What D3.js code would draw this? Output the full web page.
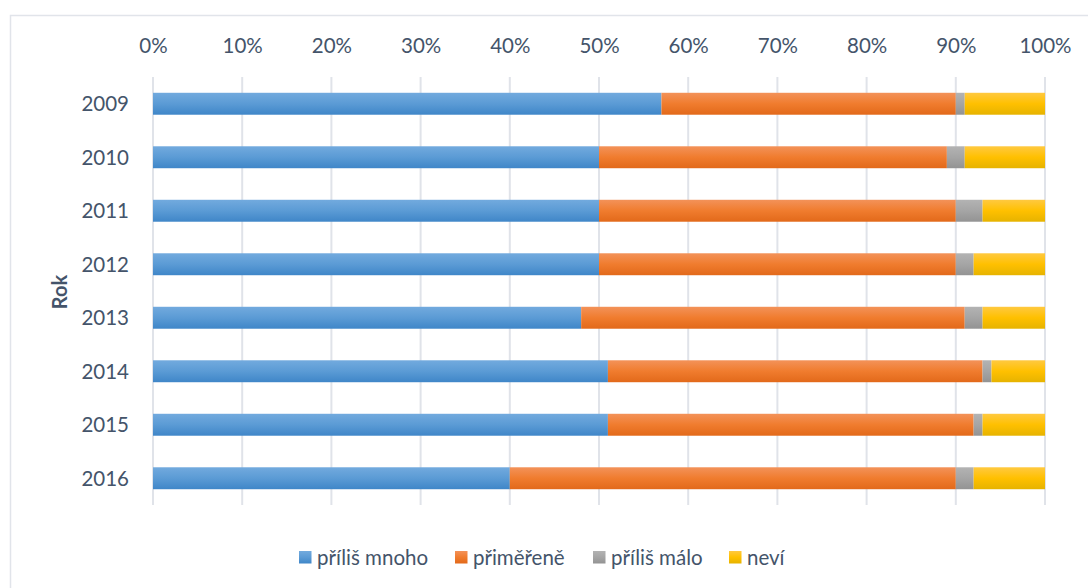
<!DOCTYPE html>
<html>
<head>
<meta charset="utf-8">
<script src="https://cdn.jsdelivr.net/npm/d3@7/dist/d3.min.js"></script>
<style>
  html, body { margin: 0; padding: 0; background: #fff; }
  svg { display: block; font-family: Lato, "Open Sans", sans-serif; }
</style>
</head>
<body>
<svg id="chart" width="1088" height="588"></svg>
<script>
const years = ["2009", "2010", "2011", "2012", "2013", "2014", "2015", "2016"];
const seriesNames = ["příliš mnoho", "přiměřeně", "příliš málo", "neví"];
const prilisMnoho = [57, 50, 50, 50, 48, 51, 51, 40];
const primerene   = [33, 39, 40, 40, 43, 42, 41, 50];
const prilisMalo  = [1, 2, 3, 2, 2, 1, 1, 2];
const nevi        = [9, 9, 7, 8, 7, 6, 7, 8];
const tickValues = [0, 0.1, 0.2, 0.3, 0.4, 0.5, 0.6, 0.7, 0.8, 0.9, 1.0];

const colors = [
  { top: "#72aade", mid: "#5b9bd5", bot: "#3f86c8" },
  { top: "#f39259", mid: "#f07c2e", bot: "#e2691a" },
  { top: "#b3b3b3", mid: "#a5a5a5", bot: "#939393" },
  { top: "#ffc940", mid: "#ffc000", bot: "#e6b300" }
];

const svg = d3.select("#chart");
const defs = svg.append("defs");
colors.forEach((c, i) => {
  const g = defs.append("linearGradient").attr("id", "grad" + i)
    .attr("x1", 0).attr("y1", 0).attr("x2", 0).attr("y2", 1);
  g.append("stop").attr("offset", "0%").attr("stop-color", c.top);
  g.append("stop").attr("offset", "50%").attr("stop-color", c.mid);
  g.append("stop").attr("offset", "100%").attr("stop-color", c.bot);
});

// chart border
svg.append("rect").attr("x", 10.5).attr("y", 15.5).attr("width", 1100).attr("height", 600)
  .attr("fill", "none").attr("stroke", "#e1e4ea").attr("stroke-width", 1.5);

const x = d3.scaleLinear().domain([0, 1]).range([153, 1045]);
const y = d3.scaleBand().domain(years).range([77, 505]).paddingInner(0.59).paddingOuter(0.295);

const table = years.map((yr, i) => ({
  year: yr,
  values: [prilisMnoho[i], primerene[i], prilisMalo[i], nevi[i]]
}));
const stack = d3.stack().keys([0, 1, 2, 3]).value((d, k) => d.values[k] / 100);
const stacked = stack(table);

// gridlines
svg.append("g").selectAll("line").data(tickValues).join("line")
  .attr("x1", d => x(d)).attr("x2", d => x(d))
  .attr("y1", 77).attr("y2", 505)
  .attr("stroke", "#e0e3e9").attr("stroke-width", 2);

// top axis labels
const xAxis = d3.axisTop(x).tickValues(tickValues).tickFormat(d3.format(".0%")).tickSize(0).tickPadding(0);
const gx = svg.append("g").attr("transform", "translate(0,53)").call(xAxis);
gx.select(".domain").remove();
gx.selectAll("text").attr("font-size", 20.5).attr("fill", "#44546a")
  .attr("font-family", "Lato, 'Open Sans', sans-serif").attr("dy", 0);

// y axis labels
const yAxis = d3.axisLeft(y).tickSize(0).tickPadding(0);
const gy = svg.append("g").attr("transform", "translate(129,0)").call(yAxis);
gy.select(".domain").remove();
gy.selectAll("text").attr("font-size", 20.5).attr("fill", "#44546a")
  .attr("font-family", "Lato, 'Open Sans', sans-serif").attr("dy", "0.36em");

// bars
svg.append("g").selectAll("g").data(stacked).join("g")
  .attr("fill", (d, i) => "url(#grad" + i + ")")
  .selectAll("rect").data(d => d).join("rect")
  .attr("x", d => x(d[0]))
  .attr("width", d => x(d[1]) - x(d[0]))
  .attr("y", d => y(d.data.year))
  .attr("height", y.bandwidth());

// axis title
svg.append("text").attr("transform", "translate(67,292) rotate(-90)")
  .attr("text-anchor", "middle").attr("font-size", 20).attr("font-weight", "bold")
  .attr("fill", "#44546a").text("Rok");

// legend
const legendX = [299, 455, 593, 729];
const lg = svg.append("g").selectAll("g").data(seriesNames).join("g")
  .attr("transform", (d, i) => `translate(${legendX[i]},551)`);
lg.append("rect").attr("width", 12.5).attr("height", 12.5)
  .attr("fill", (d, i) => "url(#grad" + i + ")");
lg.append("text").attr("x", 18).attr("y", 6.5).attr("dy", "0.36em")
  .attr("font-size", 20.5).attr("fill", "#44546a").text(d => d);
</script>
</body>
</html>
